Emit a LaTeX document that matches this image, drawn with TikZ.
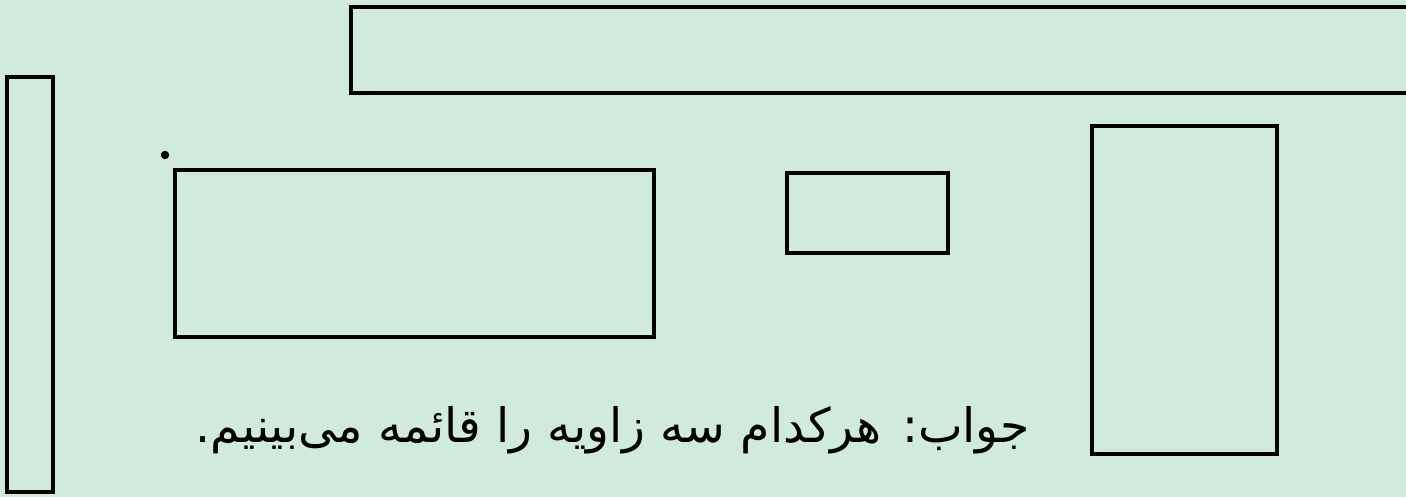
\documentclass[tikz,border=0pt]{standalone}
\usepackage{fontspec}
\newfontfamily\arabicfont[Script=Arabic]{DejaVu Sans}
\TeXXeTstate=1
\usepackage{xcolor}
\definecolor{Mint Paper}{HTML}{D0EBDC}
\colorlet{cBack}{Mint Paper}
\usepackage{tikz}
\usetikzlibrary{positioning}
\tikzset{
	x = .02cm,
	y = -.02cm,
	box/.style={
		draw=black,
		line width=2.3pt,
		line join=miter
	},
	answer/.style={
		font=\arabicfont\fontsize{27}{32}\selectfont,
		inner sep=0pt,
		anchor=base east
	}
}

\begin{document}
\begin{tikzpicture}
		\useasboundingbox (0,0) rectangle (1406,497);
		\fill[cBack] (0,0) rectangle (1406,497);
		\clip (0,0) rectangle (1406,497);

		\draw[box] (351,7) rectangle (1420,93);
		\draw[box] (7,77) rectangle (53,492);
		\draw[box] (175,170) rectangle (654,337);
		\draw[box] (787,173) rectangle (948,253);
		\draw[box] (1092,126) rectangle (1277,454);

		\fill (165,155) circle (2.4pt);

		\node[answer] (ans) at (1030,442) {\beginR جواب: هرکدام سه زاویه را قائمه می‌بینیم.\endR};
	\end{tikzpicture}
\end{document}
